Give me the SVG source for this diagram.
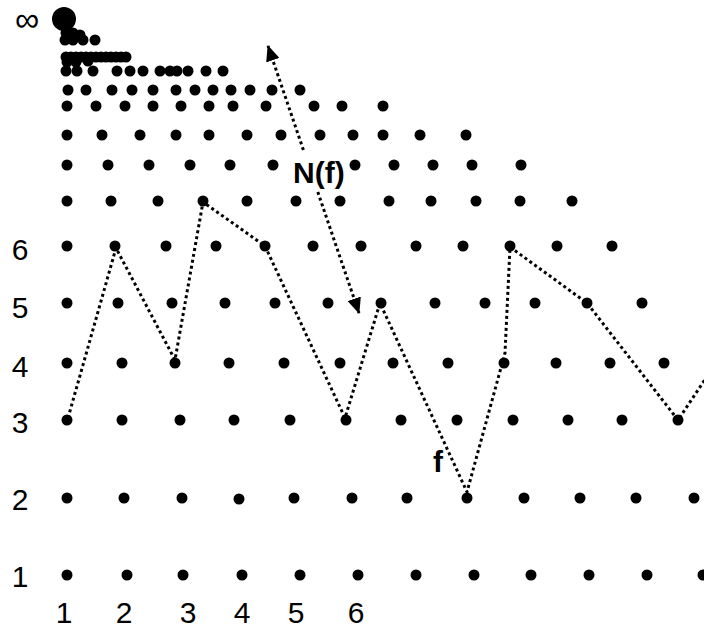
<svg xmlns="http://www.w3.org/2000/svg" width="704" height="628" viewBox="0 0 704 628">
<style>
.d circle{fill:#000}
.lab{font-family:"Liberation Sans",Arial,sans-serif;font-size:30px;fill:#000}
.inf{font-family:"Liberation Sans",Arial,sans-serif;font-size:34px;fill:#000}
.bl{font-family:"Liberation Sans",Arial,sans-serif;font-size:30px;font-weight:bold;fill:#000}
.dot{fill:none;stroke:#000;stroke-width:3;stroke-dasharray:3 3}
</style>
<defs>
<marker id="ah" viewBox="0 0 16 14" refX="15" refY="7" markerWidth="16" markerHeight="14" markerUnits="userSpaceOnUse" orient="auto"><path d="M0,0 L16,7 L0,14 z" fill="#000"/></marker>
</defs>
<rect width="704" height="628" fill="#fff"/>
<g id="labels">
<text class="inf" x="27" y="31" text-anchor="middle">∞</text>
<text class="lab" x="20" y="260" text-anchor="middle">6</text>
<text class="lab" x="20" y="318" text-anchor="middle">5</text>
<text class="lab" x="20" y="377" text-anchor="middle">4</text>
<text class="lab" x="20" y="433" text-anchor="middle">3</text>
<text class="lab" x="20" y="510" text-anchor="middle">2</text>
<text class="lab" x="20" y="587" text-anchor="middle">1</text>
<text class="lab" x="64" y="623" text-anchor="middle">1</text>
<text class="lab" x="124" y="623" text-anchor="middle">2</text>
<text class="lab" x="188" y="623" text-anchor="middle">3</text>
<text class="lab" x="242" y="623" text-anchor="middle">4</text>
<text class="lab" x="296" y="623" text-anchor="middle">5</text>
<text class="lab" x="356" y="623" text-anchor="middle">6</text>
</g>
<g id="dots" class="d">
<circle cx="64" cy="19" r="12"/>
<circle cx="66" cy="33" r="5.5"/><circle cx="73" cy="33" r="5.5"/><circle cx="80" cy="35" r="5.5"/>
<circle cx="65" cy="40" r="5.5"/><circle cx="73" cy="40" r="5.5"/><circle cx="83" cy="40" r="5.5"/><circle cx="95" cy="40" r="5.5"/>
<circle cx="66" cy="57" r="5.5"/><circle cx="71" cy="57" r="5.5"/><circle cx="76" cy="57" r="5.5"/><circle cx="81" cy="57" r="5.5"/><circle cx="86" cy="57" r="5.5"/><circle cx="91" cy="57" r="5.5"/><circle cx="96" cy="57" r="5.5"/><circle cx="101" cy="57" r="5.5"/><circle cx="106" cy="57" r="5.5"/><circle cx="111" cy="57" r="5.5"/><circle cx="116" cy="57" r="5.5"/><circle cx="121" cy="57" r="5.5"/><circle cx="126" cy="57" r="5.5"/>
<circle cx="67" cy="62" r="5.5"/><circle cx="76" cy="62" r="5.5"/><circle cx="88" cy="61" r="5.5"/>
<circle cx="66" cy="71" r="5.5"/><circle cx="77" cy="71" r="5.5"/><circle cx="93" cy="71" r="5.5"/><circle cx="117" cy="71" r="5.5"/><circle cx="130" cy="71" r="5.5"/><circle cx="143" cy="71" r="5.5"/><circle cx="160" cy="71" r="5.5"/><circle cx="170" cy="71" r="5.5"/><circle cx="177" cy="71" r="5.5"/><circle cx="188" cy="71" r="5.5"/><circle cx="206" cy="71" r="5.5"/><circle cx="223" cy="71" r="5.5"/>
<circle cx="68" cy="90" r="5.5"/><circle cx="86" cy="90" r="5.5"/><circle cx="112" cy="90" r="5.5"/><circle cx="132" cy="90" r="5.5"/><circle cx="153" cy="90" r="5.5"/><circle cx="176" cy="90" r="5.5"/><circle cx="195" cy="90" r="5.5"/><circle cx="213" cy="90" r="5.5"/><circle cx="231" cy="90" r="5.5"/><circle cx="250" cy="90" r="5.5"/><circle cx="272" cy="90" r="5.5"/><circle cx="300" cy="90" r="5.5"/>
<circle cx="67" cy="106" r="5.5"/><circle cx="96" cy="106" r="5.5"/><circle cx="125" cy="106" r="5.5"/><circle cx="153" cy="106" r="5.5"/><circle cx="181" cy="106" r="5.5"/><circle cx="209" cy="106" r="5.5"/><circle cx="233" cy="106" r="5.5"/><circle cx="266" cy="106" r="5.5"/><circle cx="314" cy="106" r="5.5"/><circle cx="342" cy="106" r="5.5"/><circle cx="383" cy="106" r="5.5"/>
<circle cx="67" cy="135" r="5.5"/><circle cx="102" cy="135" r="5.5"/><circle cx="140" cy="135" r="5.5"/><circle cx="176" cy="135" r="5.5"/><circle cx="209" cy="135" r="5.5"/><circle cx="247" cy="135" r="5.5"/><circle cx="281" cy="135" r="5.5"/><circle cx="320" cy="135" r="5.5"/><circle cx="353" cy="135" r="5.5"/><circle cx="383" cy="135" r="5.5"/><circle cx="420" cy="135" r="5.5"/><circle cx="466" cy="135" r="5.5"/>
<circle cx="67" cy="165" r="5.5"/><circle cx="108" cy="165" r="5.5"/><circle cx="149" cy="165" r="5.5"/><circle cx="190" cy="165" r="5.5"/><circle cx="230" cy="165" r="5.5"/><circle cx="273" cy="165" r="5.5"/><circle cx="355" cy="165" r="5.5"/><circle cx="394" cy="165" r="5.5"/><circle cx="433" cy="165" r="5.5"/><circle cx="472" cy="165" r="5.5"/><circle cx="521" cy="165" r="5.5"/>
<circle cx="67" cy="201" r="5.5"/><circle cx="111" cy="201" r="5.5"/><circle cx="158" cy="201" r="5.5"/><circle cx="203" cy="201" r="5.5"/><circle cx="247" cy="201" r="5.5"/><circle cx="296" cy="201" r="5.5"/><circle cx="340" cy="201" r="5.5"/><circle cx="389" cy="201" r="5.5"/><circle cx="431" cy="201" r="5.5"/><circle cx="476" cy="201" r="5.5"/><circle cx="520" cy="201" r="5.5"/><circle cx="572" cy="201" r="5.5"/>
<circle cx="67" cy="246" r="5.5"/><circle cx="115" cy="246" r="5.5"/><circle cx="166" cy="246" r="5.5"/><circle cx="216" cy="246" r="5.5"/><circle cx="265" cy="246" r="5.5"/><circle cx="313" cy="246" r="5.5"/><circle cx="361" cy="246" r="5.5"/><circle cx="416" cy="246" r="5.5"/><circle cx="463" cy="246" r="5.5"/><circle cx="510" cy="246" r="5.5"/><circle cx="557" cy="246" r="5.5"/><circle cx="612" cy="246" r="5.5"/>
<circle cx="67" cy="303" r="5.5"/><circle cx="118" cy="303" r="5.5"/><circle cx="172" cy="303" r="5.5"/><circle cx="225" cy="303" r="5.5"/><circle cx="275" cy="303" r="5.5"/><circle cx="328" cy="303" r="5.5"/><circle cx="381" cy="303" r="5.5"/><circle cx="435" cy="303" r="5.5"/><circle cx="485" cy="303" r="5.5"/><circle cx="535" cy="303" r="5.5"/><circle cx="587" cy="303" r="5.5"/><circle cx="642" cy="303" r="5.5"/>
<circle cx="67" cy="363" r="5.5"/><circle cx="122" cy="363" r="5.5"/><circle cx="175" cy="363" r="5.5"/><circle cx="229" cy="363" r="5.5"/><circle cx="284" cy="363" r="5.5"/><circle cx="340" cy="363" r="5.5"/><circle cx="393" cy="363" r="5.5"/><circle cx="448" cy="363" r="5.5"/><circle cx="504" cy="363" r="5.5"/><circle cx="556" cy="363" r="5.5"/><circle cx="610" cy="363" r="5.5"/><circle cx="664" cy="363" r="5.5"/>
<circle cx="67" cy="420" r="5.5"/><circle cx="122" cy="420" r="5.5"/><circle cx="180" cy="420" r="5.5"/><circle cx="234" cy="420" r="5.5"/><circle cx="290" cy="420" r="5.5"/><circle cx="346" cy="420" r="5.5"/><circle cx="401" cy="420" r="5.5"/><circle cx="457" cy="420" r="5.5"/><circle cx="513" cy="420" r="5.5"/><circle cx="568" cy="420" r="5.5"/><circle cx="622" cy="420" r="5.5"/><circle cx="678" cy="420" r="5.5"/>
<circle cx="67" cy="498" r="5.5"/><circle cx="124" cy="498" r="5.5"/><circle cx="182" cy="498" r="5.5"/><circle cx="239" cy="499" r="5.5"/><circle cx="294" cy="498" r="5.5"/><circle cx="352" cy="498" r="5.5"/><circle cx="407" cy="498" r="5.5"/><circle cx="467" cy="498" r="5.5"/><circle cx="524" cy="498" r="5.5"/><circle cx="580" cy="498" r="5.5"/><circle cx="636" cy="498" r="5.5"/><circle cx="694" cy="498" r="5.5"/>
<circle cx="67" cy="575" r="5.5"/><circle cx="127" cy="575" r="5.5"/><circle cx="183" cy="575" r="5.5"/><circle cx="242" cy="575" r="5.5"/><circle cx="300" cy="575" r="5.5"/><circle cx="358" cy="575" r="5.5"/><circle cx="416" cy="575" r="5.5"/><circle cx="474" cy="575" r="5.5"/><circle cx="531" cy="575" r="5.5"/><circle cx="589" cy="575" r="5.5"/><circle cx="647" cy="575" r="5.5"/><circle cx="703" cy="575" r="5.5"/>
</g>
<g id="connectors">
<polyline class="dot" points="68,418 116,248 175,360 203,202 265,246 345,418 380,303 467,492 505,353 510,247 587,303 678,420 710,372"/>
<path class="dot" d="M303.4,150 L268,46" marker-end="url(#ah)"/>
<path class="dot" d="M317.8,192 L359,313" marker-end="url(#ah)"/>
</g>
<g id="text-labels">
<text class="bl" x="293" y="183">N(f)</text>
<text class="bl" x="433" y="472">f</text>
</g>
</svg>
